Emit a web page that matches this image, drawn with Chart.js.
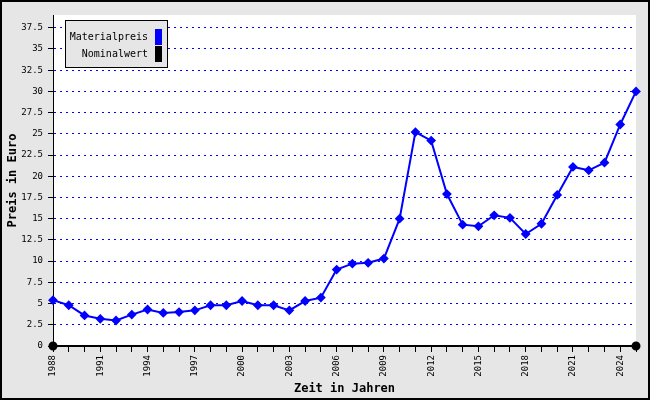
<!DOCTYPE html>
<html lang="de">
<head>
    <meta charset="UTF-8">
    <title>Materialpreis</title>
    <style>
        body { margin:0; padding:0; }
    </style>
    <script src="https://cdn.jsdelivr.net/npm/chart.js"></script>
</head>
<body>

<div style="height:400px;width:650px;">
    <canvas id="priceChart"></canvas>
</div>

<script>
const years = [
  '1988','1989','1990','1991','1992','1993','1994','1995','1996','1997',
  '1998','1999','2000','2001','2002','2003','2004','2005','2006','2007',
  '2008','2009','2010','2011','2012','2013','2014','2015','2016','2017',
  '2018','2019','2020','2021','2022','2023','2024','2025'
];
const materialpreis = [
  5.4, 4.8, 3.6, 3.2, 3.0, 3.7, 4.3, 3.9, 4.0, 4.2,
  4.8, 4.8, 5.3, 4.8, 4.8, 4.2, 5.3, 5.7, 9.0, 9.7,
  9.8, 10.3, 15.0, 25.2, 24.2, 17.9, 14.3, 14.1, 15.4, 15.1,
  13.2, 14.4, 17.8, 21.1, 20.7, 21.6, 26.1, 30.0
];
// Nominalwert only has a value at the first and last year
const nominalwert = [
  0, null, null, null, null, null, null, null, null, null,
  null, null, null, null, null, null, null, null, null, null,
  null, null, null, null, null, null, null, null, null, null,
  null, null, null, null, null, null, null, 0
];
const yTicks = [0, 2.5, 5, 7.5, 10, 12.5, 15, 17.5, 20, 22.5, 25, 27.5, 30, 32.5, 35, 37.5];
const yMax = 39;

const mono = "'DejaVu Sans Mono', monospace";

// gray frame, white plot area, black outer border
const framePlugin = {
  id: 'frame',
  beforeDraw(chart) {
    const ctx = chart.ctx;
    const a = chart.chartArea;
    ctx.save();
    ctx.fillStyle = '#e6e6e6';
    ctx.fillRect(0, 0, chart.width, chart.height);
    ctx.fillStyle = '#ffffff';
    ctx.fillRect(a.left, a.top, a.right - a.left, a.bottom - a.top);
    ctx.strokeStyle = '#000000';
    ctx.lineWidth = 2;
    ctx.strokeRect(1, 1, chart.width - 2, chart.height - 2);
    ctx.restore();
  }
};

// boxed legend, text right aligned, tall colour boxes on the right
const boxLegend = {
  id: 'boxLegend',
  afterDraw(chart) {
    const ctx = chart.ctx;
    const a = chart.chartArea;
    const x = a.left + 12, y = a.top + 5, w = 102, h = 47;
    ctx.save();
    ctx.fillStyle = '#e6e6e6';
    ctx.fillRect(x, y, w, h);
    ctx.strokeStyle = '#000000';
    ctx.lineWidth = 1;
    ctx.strokeRect(x + 0.5, y + 0.5, w, h);
    ctx.font = '10px ' + mono;
    ctx.textAlign = 'right';
    ctx.textBaseline = 'middle';
    chart.data.datasets.forEach((ds, i) => {
      const cy = y + 17 + i * 17;
      ctx.fillStyle = '#000000';
      ctx.fillText(ds.label, x + 83, cy);
      ctx.fillStyle = ds.borderColor;
      ctx.fillRect(x + 90, cy - 8, 7, 16);
    });
    ctx.restore();
  }
};

const data_prices = {
  labels: years,
  datasets: [{
    label: 'Materialpreis',
    data: materialpreis,
    borderColor: '#0000ff',
    backgroundColor: '#0000ff',
    borderWidth: 2,
    pointStyle: 'rectRot',
    pointRadius: 3.5,
    pointHoverRadius: 3.5,
    clip: false,
    order: 1
  }, {
    label: 'Nominalwert',
    data: nominalwert,
    borderColor: '#000000',
    backgroundColor: '#000000',
    borderWidth: 2,
    pointStyle: 'circle',
    pointRadius: 3.5,
    spanGaps: true,
    clip: false,
    order: 2
  }]
};

const config_prices = {
  type: 'line',
  data: data_prices,
  plugins: [framePlugin, boxLegend],
  options: {
    animation: false,
    responsive: true,
    maintainAspectRatio: false,
    layout: { padding: { top: 15, right: 14, bottom: 0, left: 0 } },
    plugins: {
      legend: { display: false },
      tooltip: { enabled: false }
    },
    scales: {
      x: {
        offset: false,
        grid: { drawOnChartArea: false, tickLength: 6, tickColor: '#000000', color: '#000000' },
        border: { color: '#000000', width: 2 },
        ticks: {
          autoSkip: false,
          minRotation: 90,
          maxRotation: 90,
          padding: 3,
          color: '#000000',
          font: { family: mono, size: 9 },
          callback: function(value, index) {
            return index % 3 === 0 ? this.getLabelForValue(value) : '';
          }
        },
        title: {
          display: true,
          text: 'Zeit in Jahren',
          color: '#000000',
          font: { family: mono, size: 12, weight: 'bold' },
          padding: { top: 0, bottom: 4 }
        },
        afterFit: function(scale) { scale.height = 54; }
      },
      y: {
        min: 0,
        max: yMax,
        afterBuildTicks: function(scale) {
          scale.ticks = yTicks.map(v => ({ value: v }));
        },
        grid: { color: '#0000ff', lineWidth: 1, tickLength: 5, tickColor: '#000000' },
        border: { color: '#000000', width: 1, dash: [2, 4] },
        ticks: {
          padding: 5,
          color: '#000000',
          font: { family: mono, size: 9 }
        },
        title: {
          display: true,
          text: 'Preis in Euro',
          color: '#000000',
          font: { family: mono, size: 12, weight: 'bold' },
          padding: { top: 6, bottom: 0 }
        },
        afterFit: function(scale) { scale.width = 53; }
      }
    }
  }
};

var priceChart = new Chart(document.getElementById('priceChart'), config_prices);
</script>

</body>
</html>
